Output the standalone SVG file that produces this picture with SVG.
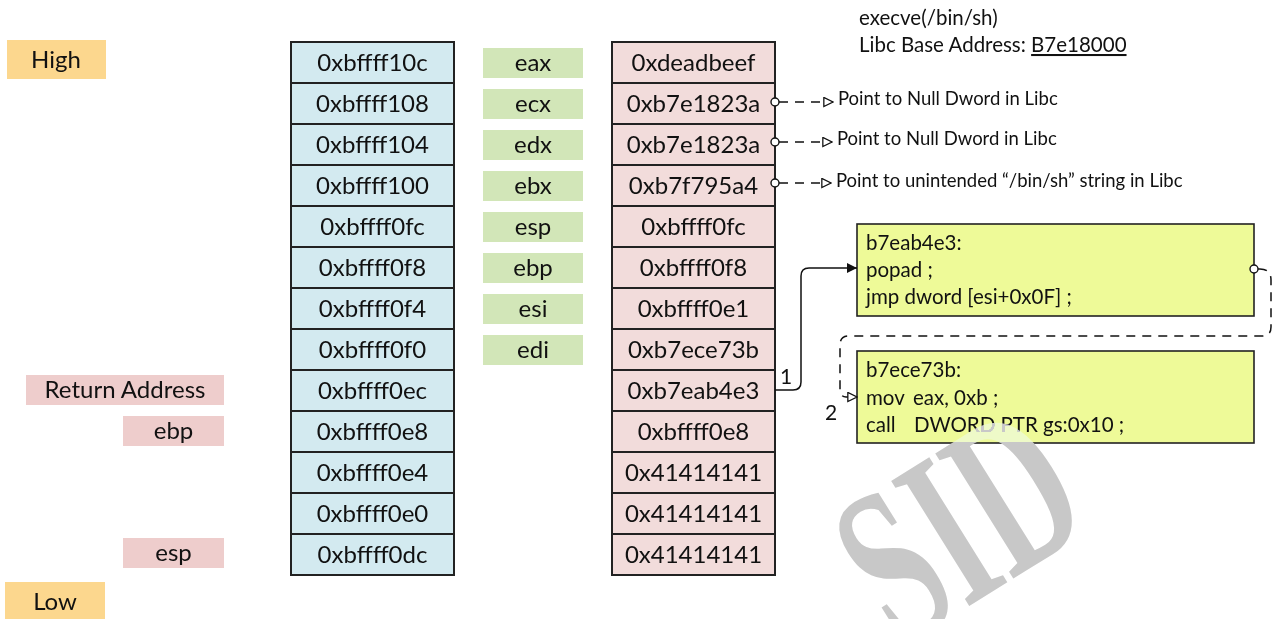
<svg xmlns="http://www.w3.org/2000/svg" width="1276" height="619" viewBox="0 0 1276 619">
<style>
text{font-family:Lato,"Liberation Sans",sans-serif;fill:#111}
.cell{font-size:24px;text-anchor:middle}
.blue{fill:#D3EAF0;stroke:#222;stroke-width:2}
.pink{fill:#F2DCDB;stroke:#222;stroke-width:2}
.reg{fill:#D2E6B8}
.lab{fill:#EECDCC}
.hl{fill:#FCD78E}
.yel{fill:#EEFA98;stroke:#222;stroke-width:1.6}
.note{font-size:18.5px}
.code{font-size:20.5px}
.conn{fill:none;stroke:#111;stroke-width:1.5}
.dash{stroke-dasharray:9,7}
.wm{font-family:"Liberation Serif",serif;font-weight:bold;font-size:225px;fill:#c8c8c8;mix-blend-mode:lighten;text-anchor:middle}
</style>
<defs>
<marker id="fa" viewBox="0 0 10 10" refX="10" refY="5" markerWidth="10" markerHeight="10" markerUnits="userSpaceOnUse" orient="auto"><path d="M0,0 L10,5 L0,10 z" fill="#111"/></marker>
<marker id="oa" viewBox="0 0 12 12" refX="11" refY="6" markerWidth="11" markerHeight="11" markerUnits="userSpaceOnUse" orient="auto"><path d="M1,1 L11,6 L1,11 z" fill="#fff" stroke="#111" stroke-width="1.4"/></marker>
</defs>

<g id="high"><rect class="hl" x="7" y="40" width="99" height="39"/><text class="cell" x="56" y="68">High</text></g>
<g id="low"><rect class="hl" x="5" y="582" width="100" height="37"/><text class="cell" x="55" y="610">Low</text></g>

<g id="addresses">
<rect class="blue" x="291" y="42" width="163" height="41"/><text class="cell" x="372.5" y="71">0xbffff10c</text>
<rect class="blue" x="291" y="83" width="163" height="41"/><text class="cell" x="372.5" y="112">0xbffff108</text>
<rect class="blue" x="291" y="124" width="163" height="41"/><text class="cell" x="372.5" y="153">0xbffff104</text>
<rect class="blue" x="291" y="165" width="163" height="41"/><text class="cell" x="372.5" y="194">0xbffff100</text>
<rect class="blue" x="291" y="206" width="163" height="41"/><text class="cell" x="372.5" y="235">0xbffff0fc</text>
<rect class="blue" x="291" y="247" width="163" height="41"/><text class="cell" x="372.5" y="276">0xbffff0f8</text>
<rect class="blue" x="291" y="288" width="163" height="41"/><text class="cell" x="372.5" y="317">0xbffff0f4</text>
<rect class="blue" x="291" y="329" width="163" height="41"/><text class="cell" x="372.5" y="358">0xbffff0f0</text>
<rect class="blue" x="291" y="370" width="163" height="41"/><text class="cell" x="372.5" y="399">0xbffff0ec</text>
<rect class="blue" x="291" y="411" width="163" height="41"/><text class="cell" x="372.5" y="440">0xbffff0e8</text>
<rect class="blue" x="291" y="452" width="163" height="41"/><text class="cell" x="372.5" y="481">0xbffff0e4</text>
<rect class="blue" x="291" y="493" width="163" height="41"/><text class="cell" x="372.5" y="522">0xbffff0e0</text>
<rect class="blue" x="291" y="534" width="163" height="41"/><text class="cell" x="372.5" y="563">0xbffff0dc</text>
</g>

<g id="registers">
<rect class="reg" x="483" y="48" width="100" height="30"/><text class="cell" x="533" y="71">eax</text>
<rect class="reg" x="483" y="89" width="100" height="30"/><text class="cell" x="533" y="112">ecx</text>
<rect class="reg" x="483" y="130" width="100" height="30"/><text class="cell" x="533" y="153">edx</text>
<rect class="reg" x="483" y="171" width="100" height="30"/><text class="cell" x="533" y="194">ebx</text>
<rect class="reg" x="483" y="212" width="100" height="30"/><text class="cell" x="533" y="235">esp</text>
<rect class="reg" x="483" y="253" width="100" height="30"/><text class="cell" x="533" y="276">ebp</text>
<rect class="reg" x="483" y="294" width="100" height="30"/><text class="cell" x="533" y="317">esi</text>
<rect class="reg" x="483" y="335" width="100" height="30"/><text class="cell" x="533" y="358">edi</text>
</g>

<g id="values">
<rect class="pink" x="612" y="42" width="163" height="41"/><text class="cell" x="693.5" y="71">0xdeadbeef</text>
<rect class="pink" x="612" y="83" width="163" height="41"/><text class="cell" x="693.5" y="112">0xb7e1823a</text>
<rect class="pink" x="612" y="124" width="163" height="41"/><text class="cell" x="693.5" y="153">0xb7e1823a</text>
<rect class="pink" x="612" y="165" width="163" height="41"/><text class="cell" x="693.5" y="194">0xb7f795a4</text>
<rect class="pink" x="612" y="206" width="163" height="41"/><text class="cell" x="693.5" y="235">0xbffff0fc</text>
<rect class="pink" x="612" y="247" width="163" height="41"/><text class="cell" x="693.5" y="276">0xbffff0f8</text>
<rect class="pink" x="612" y="288" width="163" height="41"/><text class="cell" x="693.5" y="317">0xbffff0e1</text>
<rect class="pink" x="612" y="329" width="163" height="41"/><text class="cell" x="693.5" y="358">0xb7ece73b</text>
<rect class="pink" x="612" y="370" width="163" height="41"/><text class="cell" x="693.5" y="399">0xb7eab4e3</text>
<rect class="pink" x="612" y="411" width="163" height="41"/><text class="cell" x="693.5" y="440">0xbffff0e8</text>
<rect class="pink" x="612" y="452" width="163" height="41"/><text class="cell" x="693.5" y="481">0x41414141</text>
<rect class="pink" x="612" y="493" width="163" height="41"/><text class="cell" x="693.5" y="522">0x41414141</text>
<rect class="pink" x="612" y="534" width="163" height="41"/><text class="cell" x="693.5" y="563">0x41414141</text>
</g>

<g id="label-ret"><rect class="lab" x="26" y="375" width="198" height="30"/><text class="cell" x="125" y="398">Return Address</text></g>
<g id="label-ebp"><rect class="lab" x="123" y="416" width="101" height="30"/><text class="cell" x="173.5" y="439">ebp</text></g>
<g id="label-esp"><rect class="lab" x="123" y="538" width="101" height="30"/><text class="cell" x="173.5" y="561">esp</text></g>

<g id="info">
<text style="font-size:20.5px" x="859" y="25">execve(/bin/sh)</text>
<text style="font-size:20.5px" x="859" y="52">Libc Base Address: <tspan style="text-decoration:underline">B7e18000</tspan></text>
</g>

<g id="notes">
<text class="note" x="838" y="105">Point to Null Dword in Libc</text>
<text class="note" x="837" y="145">Point to Null Dword in Libc</text>
<text class="note" x="836" y="187">Point to unintended “/bin/sh” string in Libc</text>
</g>

<g id="gadget1">
<rect class="yel" x="857" y="224" width="397" height="92"/>
<text class="code" x="866" y="250">b7eab4e3:</text>
<text class="code" x="866" y="277">popad ;</text>
<text class="code" x="866" y="304">jmp dword [esi+0x0F] ;</text>
</g>
<g id="gadget2">
<rect class="yel" x="857" y="351" width="397" height="92"/>
<text class="code" x="866" y="377">b7ece73b:</text>
<text class="code" y="405"><tspan x="866">mov</tspan><tspan x="913">eax, 0xb ;</tspan></text>
<text class="code" y="432"><tspan x="866">call</tspan><tspan x="914">DWORD PTR gs:0x10 ;</tspan></text>
</g>

<g id="connectors">
<circle cx="775" cy="102" r="4" fill="#fff" stroke="#111" stroke-width="1.4"/>
<path class="conn dash" d="M779,102 H833" marker-end="url(#oa)"/>
<circle cx="775" cy="142" r="4" fill="#fff" stroke="#111" stroke-width="1.4"/>
<path class="conn dash" d="M779,142 H832" marker-end="url(#oa)"/>
<circle cx="775" cy="183" r="4" fill="#fff" stroke="#111" stroke-width="1.4"/>
<path class="conn dash" d="M779,183 H831" marker-end="url(#oa)"/>
<path class="conn" d="M775,390 H793 Q801,390 801,382 V276 Q801,268 809,268 H857" marker-end="url(#fa)"/>
<text style="font-size:21px" x="780" y="384">1</text>
<circle cx="1254" cy="269" r="4" fill="#fff" stroke="#111" stroke-width="1.4"/>
<path class="conn dash" d="M1258,269 Q1271,268 1271,280 V327 Q1271,336 1262,336 H849 Q840,336 840,345 V389 Q840,397 846,397 H857" marker-end="url(#oa)"/>
<text style="font-size:21px" x="825" y="420">2</text>
</g>

<text class="wm" transform="translate(998,588) rotate(-32) scale(0.62,1)">SID</text>
</svg>
